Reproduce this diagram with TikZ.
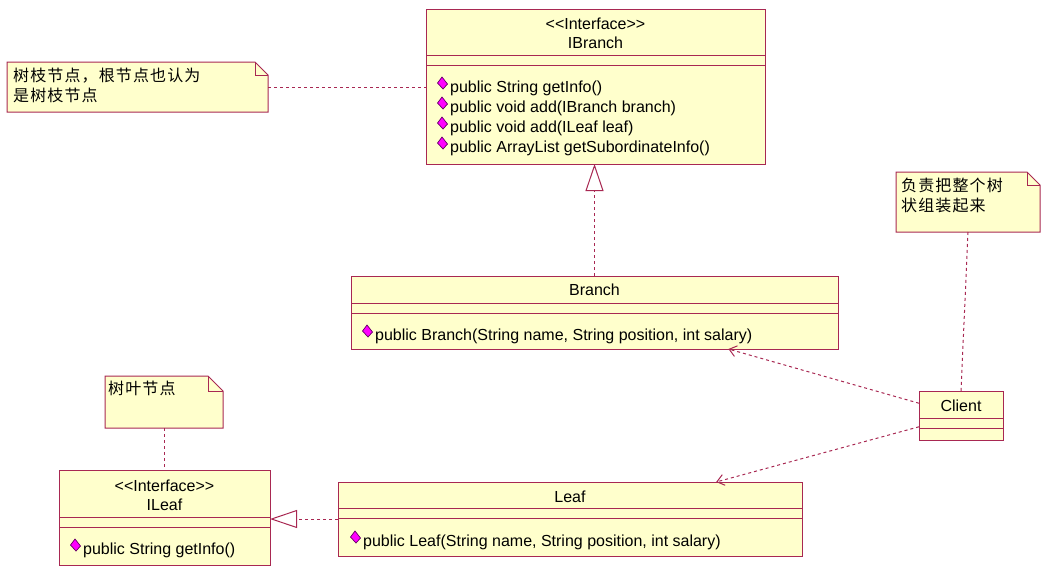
\documentclass[tikz,border=0pt]{standalone}
\usepackage{fontspec}
\setmainfont{Liberation Sans}
\newfontfamily\cjkfont[LetterSpace=7]{Noto Sans CJK SC}
\usepackage{xcolor}
\usetikzlibrary{calc, positioning, arrows.meta}

\definecolor{umlred}{RGB}{168,40,82}
\definecolor{umlfill}{RGB}{255,255,204}
\definecolor{opmagenta}{RGB}{255,0,255}
\definecolor{opdark}{RGB}{100,0,100}

% ghi chu co goc gap
\newcommand{\dogear}[2]{%
    \fill[umlfill] (#1.north west) -- ($(#1.north east)+(-#2,0)$) -- ($(#1.north east)+(0,#2)$) -- (#1.south east) -- (#1.south west) -- cycle;
    \draw[umlline] (#1.north west) -- ($(#1.north east)+(-#2,0)$) -- ($(#1.north east)+(0,#2)$) -- (#1.south east) -- (#1.south west) -- cycle;
    \draw[umlline] ($(#1.north east)+(-#2,0)$) -- ($(#1.north east)+(-#2,#2)$) -- ($(#1.north east)+(0,#2)$);%
}

\tikzset{
    opmark/.pic={\filldraw[fill=opmagenta, draw=opdark, line width=0.7pt] (-5.5,0) -- (-1,-6) -- (4.5,1) -- (0,6) -- cycle;}
}

\begin{document}
\begin{tikzpicture}[x=1pt, y=-1pt,
    umlline/.style={draw=umlred, line width=1pt},
    classbox/.style={umlline, fill=umlfill, inner sep=0pt, outer sep=0pt},
    notebox/.style={inner sep=0pt, outer sep=0pt},
    umltext/.style={font=\fontsize{16}{19}\selectfont, inner sep=0pt, text=black},
    notetext/.style={font=\cjkfont\fontsize{16}{20}\selectfont, inner sep=0pt, align=left, anchor=west},
    linkdash/.style={umlline, dash pattern=on 3pt off 3pt},
    notelink/.style={linkdash},
    realize/.style={linkdash, -{Triangle[length=27pt, width=18pt, fill=white]}},
    depend/.style={linkdash, -{Straight Barb[length=7pt, width=11pt]}}]

    \useasboundingbox (0,0) rectangle (1041,566);

    % =================================================================
    % 1. CAC LOP (IBranch, Branch, Client, Leaf, ILeaf)
    % =================================================================
    \node[classbox, minimum width=339pt, minimum height=155pt] (ibranch) at (595.5,86.5) {};
    \node[classbox, minimum width=487pt, minimum height=73pt] (branch) at (594.5,312.5) {};
    \node[classbox, minimum width=84pt, minimum height=49pt] (client) at (961,415.5) {};
    \node[classbox, minimum width=464pt, minimum height=74pt] (leaf) at (570,519) {};
    \node[classbox, minimum width=211pt, minimum height=95pt] (ileaf) at (164.5,517.5) {};

    % cac vach ngan
    \foreach \d in {46,56}
        \draw[umlline] ($(ibranch.north west)+(0,\d)$) -- ($(ibranch.north east)+(0,\d)$);
    \foreach \d in {27,37} {
        \draw[umlline] ($(branch.north west)+(0,\d)$) -- ($(branch.north east)+(0,\d)$);
        \draw[umlline] ($(client.north west)+(0,\d)$) -- ($(client.north east)+(0,\d)$);
    }
    \foreach \d in {26,36}
        \draw[umlline] ($(leaf.north west)+(0,\d)$) -- ($(leaf.north east)+(0,\d)$);
    \foreach \d in {47,57}
        \draw[umlline] ($(ileaf.north west)+(0,\d)$) -- ($(ileaf.north east)+(0,\d)$);

    % =================================================================
    % 2. TEN LOP VA PHUONG THUC
    % =================================================================
    \node[umltext] (ibranchst) at ($(ibranch.north)+(0,15)$) {<{}<Interface>{}>};
    \node[umltext] (ibranchname) at ($(ibranch.north)+(0,34)$) {IBranch};
    \foreach \op [count=\i from 0] in {{public String getInfo()}, {public void add(IBranch branch)}, {public void add(ILeaf leaf)}, {public ArrayList getSubordinateInfo()}} {
        \node[umltext, anchor=west] (ibranchop\i) at ($(ibranch.north west)+(24,79+20*\i)$) {\op};
        \pic at ($(ibranchop\i.west)+(-7,-5)$) {opmark};
    }

    \node[umltext] (branchname) at ($(branch.north)+(0,14)$) {Branch};
    \node[umltext, anchor=west] (branchop) at ($(branch.north west)+(24,60)$) {public Branch(String name, String position, int salary)};
    \pic at ($(branchop.west)+(-7,-5)$) {opmark};

    \node[umltext] (clientname) at ($(client.north)+(0,15)$) {Client};

    \node[umltext] (leafname) at ($(leaf.north)+(0,15)$) {Leaf};
    \node[umltext, anchor=west] (leafop) at ($(leaf.north west)+(25,60)$) {public Leaf(String name, String position, int salary)};
    \pic at ($(leafop.west)+(-7,-5)$) {opmark};

    \node[umltext] (ileafst) at ($(ileaf.north)+(0,16)$) {<{}<Interface>{}>};
    \node[umltext] (ileafname) at ($(ileaf.north)+(0,35)$) {ILeaf};
    \node[umltext, anchor=west] (ileafop) at ($(ileaf.north west)+(24,80)$) {public String getInfo()};
    \pic at ($(ileafop.west)+(-7,-5)$) {opmark};

    % =================================================================
    % 3. GHI CHU
    % =================================================================
    \node[notebox, minimum width=261pt, minimum height=50pt] (noteibr) at (137.5,87) {};
    \dogear{noteibr}{13}
    \node[notetext] (noteibrtext) at ($(noteibr.west)+(6,-2)$) {树枝节点，根节点也认为\\是树枝节点};

    \node[notebox, minimum width=118pt, minimum height=52pt] (noteleaf) at (164,402) {};
    \dogear{noteleaf}{15}
    \node[notetext] (noteleaftext) at ($(noteleaf.north west)+(3,12)$) {树叶节点};

    \node[notebox, minimum width=144pt, minimum height=60pt] (noteclient) at (968,202) {};
    \dogear{noteclient}{13}
    \node[notetext] (noteclienttext) at ($(noteclient.north west)+(5,23)$) {负责把整个树\\状组装起来};

    % =================================================================
    % 4. CAC DUONG NOI
    % =================================================================
    \coordinate (clientup) at ($(client.north west)!0.25!(client.south west)$);
    \coordinate (clientdn) at ($(client.north west)!0.73!(client.south west)$);
    \coordinate (branchin) at ($(branch.south west)!0.775!(branch.south east)$);
    \coordinate (leafin) at ($(leaf.north west)!0.815!(leaf.north east)$);

    \draw[notelink] (noteibr.east) -- (noteibr.east -| ibranch.west);
    \draw[notelink] (noteleaf.south) -- (noteleaf.south |- ileaf.north);
    \draw[notelink] (noteclient.south) -- (client.north);

    \draw[realize] (branch.north) -- (branch.north |- ibranch.south);
    \draw[realize] (leaf.west) -- (leaf.west -| ileaf.east);

    \draw[depend] (clientup) -- (branchin);
    \draw[depend] (clientdn) -- (leafin);

\end{tikzpicture}
\end{document}
